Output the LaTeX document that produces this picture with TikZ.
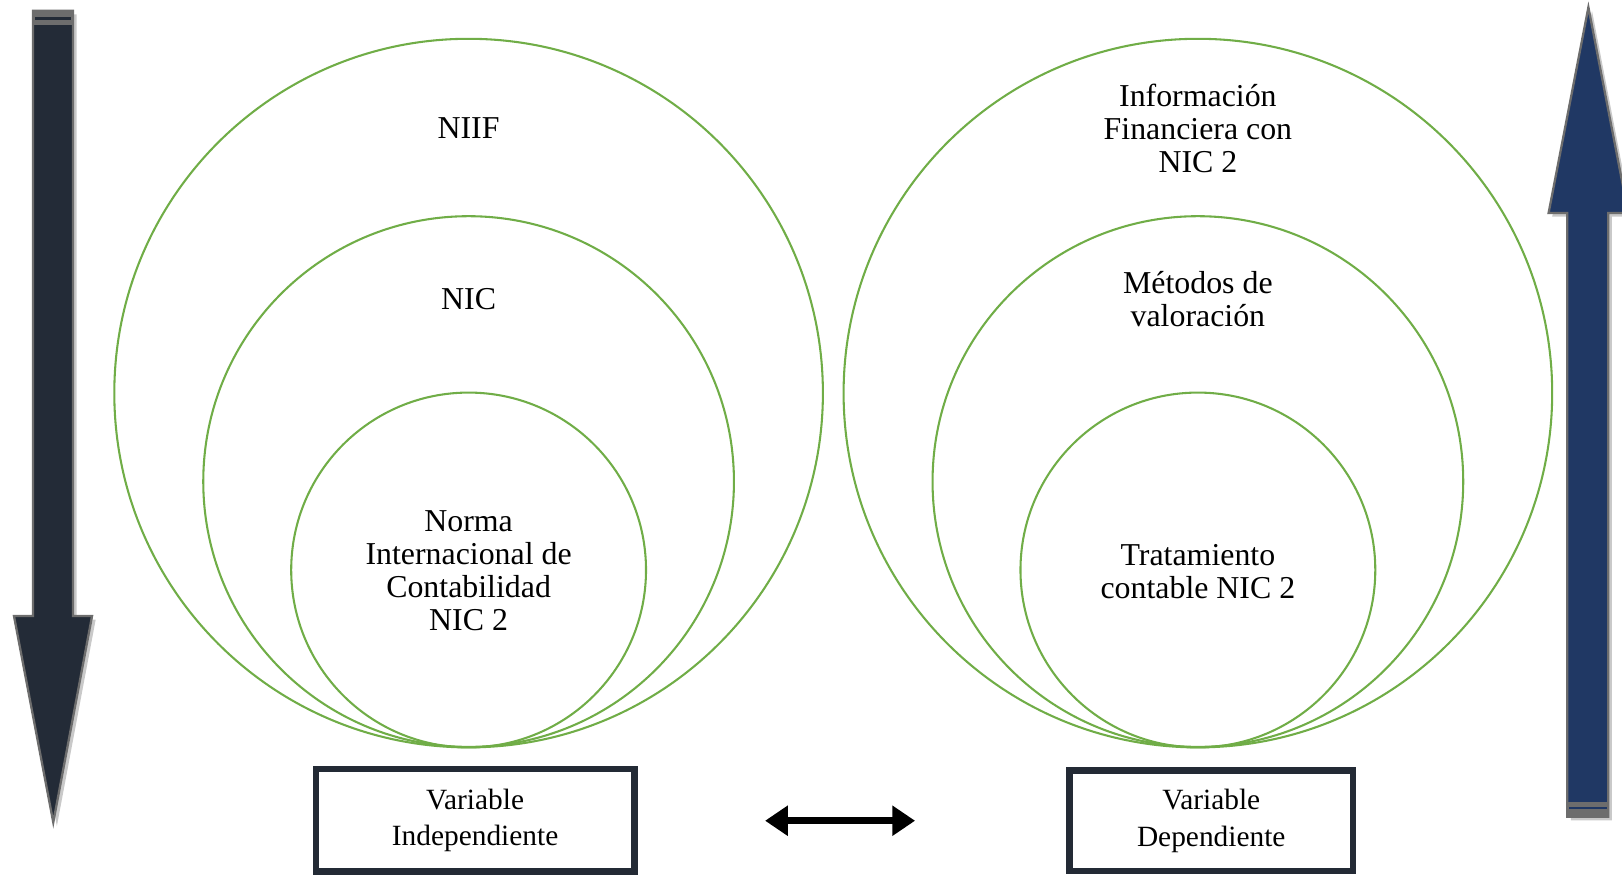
\documentclass[tikz,border=0pt]{standalone}
\usepackage{fontspec}
\setmainfont{Liberation Serif}
\usetikzlibrary{arrows.meta}
\definecolor{ringgreen}{HTML}{70AD47}
\definecolor{slate}{HTML}{232B37}
\definecolor{navy}{HTML}{203864}
\definecolor{edgegray}{HTML}{6D6D6D}
\definecolor{shadowgray}{HTML}{C9C9C9}
\definecolor{boxedge}{HTML}{232A35}
\begin{document}
\begin{tikzpicture}[x=0.5pt,y=-0.5pt,
  ring/.style={circle,draw=ringgreen,line width=1pt,inner sep=0pt,outer sep=0pt},
  ringtext/.style={align=center,font=\fontsize{15.4}{16}\selectfont,inner sep=0pt},
  varbox/.style={draw=boxedge,line width=3.2pt,inner sep=0pt,align=center,
    font=\fontsize{14.2}{17.5}\selectfont},
  bigarrow/.style={draw=edgegray,line width=1.1pt,line join=miter},
  link/.style={line width=3.3pt,{Triangle[length=11pt,width=14pt]}-{Triangle[length=11pt,width=14pt]}}
]
\useasboundingbox (0,0) rectangle (1568,846);

% left column of nested circles
\node[ring,minimum size=342.5pt] (niif) at (453,380) {};
\node[ring,minimum size=256.5pt] (nic) at (453,465.5) {};
\node[ring,minimum size=171.5pt] (nic2) at (453,551) {};
\node[ringtext] (tniif) at (453,123.5) {NIIF};
\node[ringtext] (tnic) at (453,289.5) {NIC};
\node[ringtext] (tnic2) at (453,551.5) {Norma\\Internacional de\\Contabilidad\\NIC 2};

% right column of nested circles
\node[ring,minimum size=342.5pt] (info) at (1158,380) {};
\node[ring,minimum size=256.5pt] (met) at (1158,465.5) {};
\node[ring,minimum size=171.5pt] (trat) at (1158,551) {};
\node[ringtext] (tinfo) at (1158,124) {Información\\Financiera con\\NIC 2};
\node[ringtext] (tmet) at (1158,289.5) {Métodos de\\valoración};
\node[ringtext] (ttrat) at (1158,552.5) {Tratamiento\\contable NIC 2};

% variable boxes
\node[varbox,minimum width=153.8pt,minimum height=49.5pt] (indep) at (459.3,793) {Variable\\Independiente};
\node[varbox,minimum width=136.9pt,minimum height=48.5pt] (dep) at (1170.9,793.6) {Variable\\Dependiente};

% two-headed link between the boxes
\coordinate (la) at (739.6,793.4);
\coordinate (lb) at (884.6,793.4);
\draw[link] (la) -- (lb);

% downward arrow on the left
\fill[shadowgray,shift={(3.5,3.5)}] (32,10.5) -- (70.5,10.5) -- (70.5,595.5) -- (89,595.5) -- (51.5,795) -- (13.5,595.5) -- (32,595.5) -- cycle;
\draw[bigarrow,fill=slate] (32,10.5) -- (70.5,10.5) -- (70.5,595.5) -- (89,595.5) -- (51.5,795) -- (13.5,595.5) -- (32,595.5) -- cycle;
\fill[edgegray] (31.5,10) rectangle (71,24);
\fill[slate] (33.5,16.8) rectangle (69,19.3);

% upward arrow on the right
\fill[shadowgray,shift={(3.5,3.5)}] (1515,789.5) -- (1515,206) -- (1497,206) -- (1535.5,7) -- (1574,206) -- (1554.6,206) -- (1554.6,789.5) -- cycle;
\draw[bigarrow,fill=navy] (1515,789.5) -- (1515,206) -- (1497,206) -- (1535.5,7) -- (1574,206) -- (1554.6,206) -- (1554.6,789.5) -- cycle;
\fill[edgegray] (1514.5,775) rectangle (1555.1,790);
\fill[navy] (1516.5,780) rectangle (1553,782.5);
\end{tikzpicture}
\end{document}
